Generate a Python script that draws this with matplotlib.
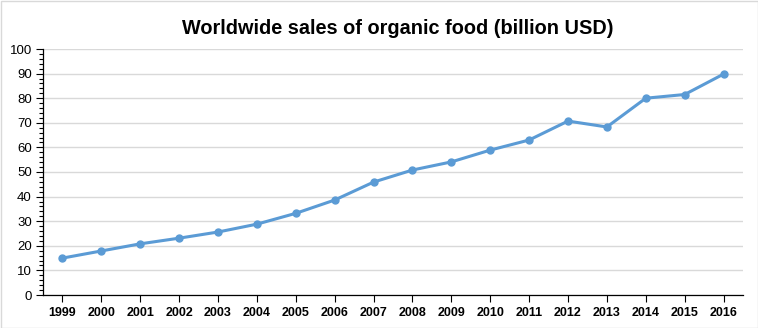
import matplotlib
matplotlib.use("Agg")
import matplotlib.pyplot as plt
from matplotlib.ticker import MultipleLocator
from matplotlib.patches import Rectangle
from matplotlib import font_manager

years = ["1999", "2000", "2001", "2002", "2003", "2004", "2005", "2006", "2007",
         "2008", "2009", "2010", "2011", "2012", "2013", "2014", "2015", "2016"]
sales = [15.0, 17.9, 20.8, 23.1, 25.6, 28.8, 33.2, 38.6, 45.9,
         50.8, 54.1, 58.9, 63.0, 70.7, 68.3, 80.0, 81.5, 89.8]

plt.rcParams['font.family'] = ['Liberation Sans', 'DejaVu Sans']
names = {f.name for f in font_manager.fontManager.ttflist}
title_family = ['Liberation Sans Narrow', 'Liberation Sans'] if 'Liberation Sans Narrow' in names else ['Liberation Sans']
title_size = 16 if 'Liberation Sans Narrow' in names else 14.3

fig = plt.figure(figsize=(7.58, 3.28), dpi=100)
ax = fig.add_axes([43/758, 1 - 295/328, 700/758, 246/328])

x = list(range(len(years)))
ax.plot(x, sales, color='#5B9BD5', linewidth=2.2, marker='o', markersize=5,
        markeredgecolor='#5B9BD5', markerfacecolor='#5B9BD5', zorder=3)

ax.set_xlim(-0.5, len(years) - 0.5)
ax.set_ylim(0, 100)
ax.yaxis.set_major_locator(MultipleLocator(10))
ax.yaxis.set_minor_locator(MultipleLocator(2))
ax.set_xticks(x)
ax.set_xticklabels(years, fontweight='bold', fontsize=9)
ax.tick_params(axis='y', which='major', direction='out', length=5, width=0.8, labelsize=9.5, colors='black', pad=3)
ax.tick_params(axis='y', which='minor', direction='out', length=3, width=0.8)
ax.tick_params(axis='x', direction='out', length=5, width=0.8, pad=4)

ax.grid(axis='y', which='major', color='#D9D9D9', linewidth=1)
ax.set_axisbelow(True)
for s in ['top', 'right']:
    ax.spines[s].set_visible(False)
for s in ['left', 'bottom']:
    ax.spines[s].set_color('black')
    ax.spines[s].set_linewidth(0.9)

fig.text(398/758, 1 - 29/328, "Worldwide sales of organic food (billion USD)",
         ha='center', va='center', fontsize=title_size, fontweight='bold', family=title_family)

fig.patches.append(Rectangle((0.5/758, 0.5/328), 757/758, 327/328, transform=fig.transFigure,
                             fill=False, edgecolor='#D9D9D9', linewidth=1))

fig.savefig("out.png", dpi=100)
